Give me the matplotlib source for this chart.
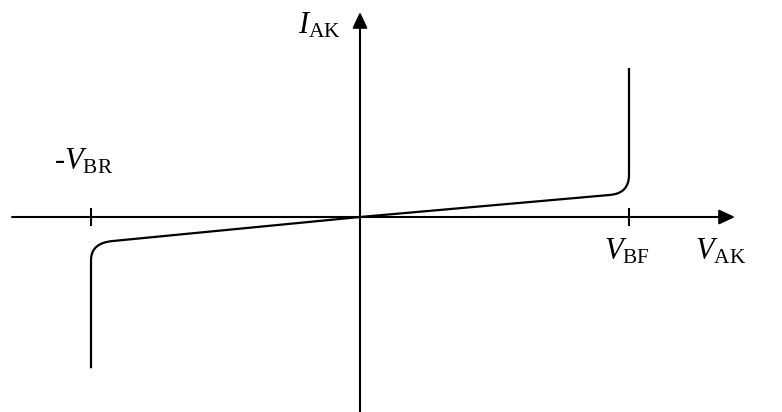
import matplotlib
matplotlib.use("Agg")
import matplotlib.pyplot as plt
from matplotlib.path import Path
from matplotlib.patches import PathPatch

plt.rcParams['mathtext.fontset'] = 'custom'
plt.rcParams['mathtext.rm'] = 'Liberation Serif'
plt.rcParams['mathtext.it'] = 'Liberation Serif:italic'
plt.rcParams['font.family'] = ['Liberation Serif', 'DejaVu Serif']

# Normalised I-V characteristic of a symmetric breakdown device
v_bf = 1.0          # forward breakover voltage
v_br = 1.0          # reverse breakdown voltage (magnitude)
leak_v = [-0.918, 0.929]   # end of the linear leakage region
leak_i = [-0.161, 0.148]
knee_i = [-0.289, 0.282]   # current where the vertical branch starts
i_top = 1.0
i_bottom = -1.015

tick_labels = [r'-$V_{\mathrm{BR}}$', r'$V_{\mathrm{BF}}$']
axis_labels = [r'$V_{\mathrm{AK}}$', r'$I_{\mathrm{AK}}$']

px_x, px_y = 269.0, 149.0   # pixels per unit along each axis
ox, oy = 360.0, 217.0       # origin in pixels

fig = plt.figure(figsize=(7.82, 4.12), dpi=100)
ax = fig.add_axes([0, 0, 1, 1])
ax.set_xlim(-ox / px_x, (782 - ox) / px_x)
ax.set_ylim(-(412 - oy) / px_y, oy / px_y)
ax.axis('off')

def px(xp, yp):
    return (xp - ox) / px_x, (oy - yp) / px_y

lw_axis = 1.5
head = '-|>,head_length=0.6,head_width=0.28'
# Axes with arrowheads
x0, _ = px(12, 0)
x1, _ = px(735, 0)
ax.annotate('', xy=(x1, 0), xytext=(x0, 0),
            arrowprops=dict(arrowstyle=head, lw=lw_axis, color='black',
                            mutation_scale=16, shrinkA=0, shrinkB=0))
_, y0 = px(0, 412)
_, y1 = px(0, 12)
ax.annotate('', xy=(0, y1), xytext=(0, y0),
            arrowprops=dict(arrowstyle=head, lw=lw_axis, color='black',
                            mutation_scale=16, shrinkA=0, shrinkB=0))

# Tick marks at the breakdown voltages
th = 0.063
for v in (-v_br, v_bf):
    ax.plot([v, v], [-th, th], color='black', lw=lw_axis, solid_capstyle='butt')

# Characteristic curve with rounded knees
verts = [
    (-v_br, i_bottom),
    (-v_br, knee_i[0]),
    (-v_br, leak_i[0] - 0.012),
    (leak_v[0], leak_i[0]),
    (0.0, 0.0),
    (leak_v[1], leak_i[1]),
    (v_bf, leak_i[1] + 0.01),
    (v_bf, knee_i[1]),
    (v_bf, i_top),
]
codes = [Path.MOVETO, Path.LINETO, Path.CURVE3, Path.CURVE3,
         Path.LINETO, Path.LINETO, Path.CURVE3, Path.CURVE3, Path.LINETO]
ax.add_patch(PathPatch(Path(verts, codes), fill=False, lw=1.6,
                       edgecolor='black', capstyle='butt', joinstyle='round'))

fs = 22
ax.text(*px(54, 169), tick_labels[0], fontsize=fs, ha='left', va='baseline')
ax.text(*px(604, 259), tick_labels[1], fontsize=fs, ha='left', va='baseline')
ax.text(*px(695, 259), axis_labels[0], fontsize=fs, ha='left', va='baseline')
ax.text(*px(298, 34), axis_labels[1], fontsize=fs, ha='left', va='baseline')

fig.savefig('out.png', dpi=100)
